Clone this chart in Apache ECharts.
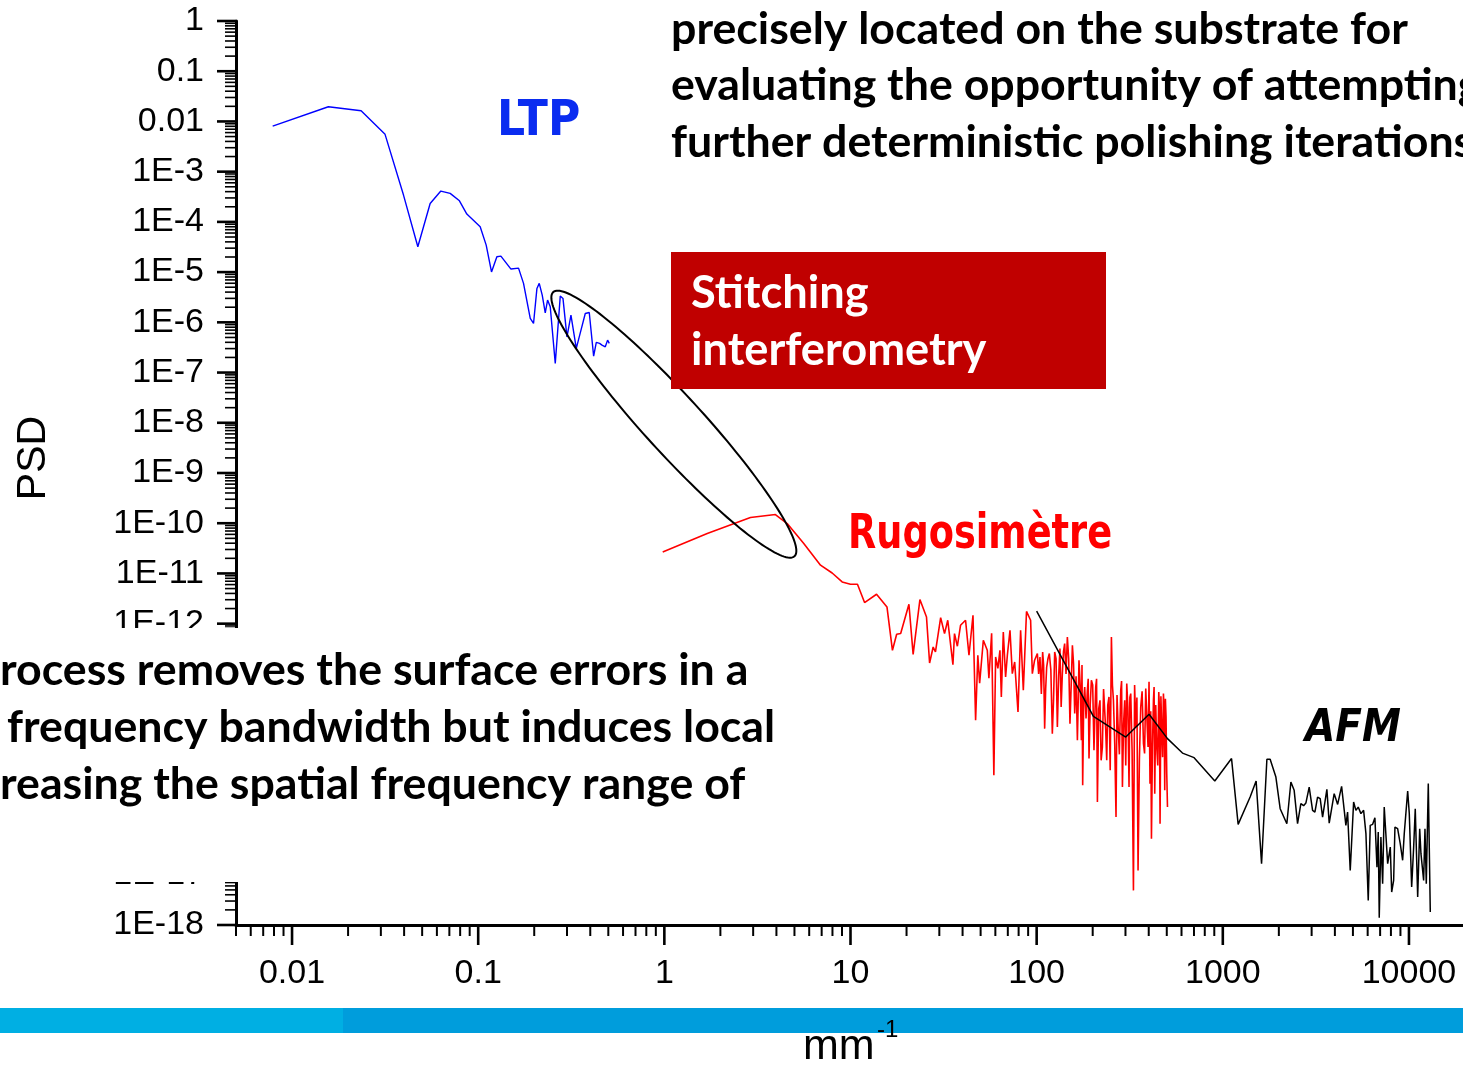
<!DOCTYPE html>
<html>
<head>
<meta charset="utf-8">
<script src="https://cdn.jsdelivr.net/npm/echarts@6/dist/echarts.min.js"></script>
<style>
  html, body { margin: 0; padding: 0; background: #fff; overflow: hidden; }
  #chart { width: 1463px; height: 1067px; }
</style>
</head>
<body>
<div id="chart"></div>
<script>
// ---- PSD measurements: spatial frequency (mm^-1) and PSD ----
// Long Trace Profiler
const ltpFreq = [0.00787, 0.01567, 0.0235, 0.0316, 0.0397, 0.0474, 0.0552, 0.063, 0.0707, 0.0793,
  0.0869, 0.1025, 0.1104, 0.1179, 0.126, 0.1324, 0.150, 0.1647, 0.1752, 0.1904,
  0.1983, 0.2068, 0.2128, 0.2208, 0.2292, 0.2359, 0.2438, 0.2594, 0.276, 0.2854,
  0.2998, 0.315, 0.3365, 0.3566, 0.376, 0.395, 0.417, 0.431, 0.449, 0.4624,
  0.4717, 0.4817, 0.4956, 0.5061];
const ltpPsd = [8.1e-3, 1.96e-2, 1.63e-2, 5.53e-3, 3.42e-4, 3.19e-5, 2.33e-4, 4.11e-4, 3.70e-4, 2.63e-4,
  1.43e-4, 7.98e-5, 3.45e-5, 1.01e-5, 2.02e-5, 2.08e-5, 1.15e-5, 1.20e-5, 5.96e-6, 1.20e-6,
  9.5e-7, 4.73e-6, 5.96e-6, 3.48e-6, 1.55e-6, 2.77e-6, 2.04e-6, 1.52e-7, 3.33e-6, 2.99e-6,
  5.14e-7, 1.39e-6, 3.02e-7, 7.0e-7, 1.50e-6, 1.57e-6, 2.12e-7, 3.98e-7, 3.80e-7, 3.52e-7,
  3.80e-7, 3.25e-7, 4.42e-7, 3.80e-7];

// Rugosimeter (stylus profiler)
const rugoFreq = [0.98, 1.70, 2.90, 3.95, 4.57, 5.61, 6.90, 7.97, 9.02, 10.0,
  10.9, 11.9, 13.8, 15.7, 16.8, 17.7, 18.6, 20.6, 21.7, 23.6,
  25.6, 26.6, 27.8, 28.6, 30.5, 32.0, 33.3, 35.5, 36.2, 37.5,
  39.0, 41.5, 43.3, 45.5, 47.0, 48.3, 49.4, 51.7, 54.3, 55.4,
  57.3, 58.9, 60.2, 61.9, 63.5, 64.6, 66.2, 68.1, 69.6, 71.9,
  74.0, 76.2, 79.4, 82.0, 84.8, 88.2, 92.8, 94.8, 97.5, 100.9,
  104.2, 107.7, 110.4, 113.2, 117.0, 121.4, 125.0, 129.2, 133.4, 137.4,
  141.4, 146.2, 151.0, 155.6, 160.1, 165.5, 168.8, 173.8, 176.7, 181.2,
  187.3, 191.1, 196.8, 203.2, 207.6, 212.0, 218.9, 225.5, 232.1, 237.9,
  244.7, 252.1, 258.5, 266.9, 273.5, 282.9, 288.9, 297.2, 304.8, 313.5,
  320.2, 331.1, 340.7, 350.5, 362.3, 374.8, 385.5, 396.7, 406.4, 413.7,
  424.0, 430.9, 441.6, 452.9, 460.2, 469.9, 479.8, 487.6, 495.5, 504.4];
const rugoPsd = [2.68e-11, 6.24e-11, 1.30e-10, 1.49e-10, 9.86e-11, 3.94e-11, 1.46e-11, 1.02e-11, 6.78e-12, 6.10e-12,
  6.10e-12, 2.63e-12, 3.85e-12, 2.15e-12, 2.95e-13, 6.15e-13, 6.35e-13, 2.43e-12, 2.45e-13, 3.02e-12,
  1.36e-12, 1.65e-13, 3.43e-13, 2.73e-13, 1.32e-12, 6.35e-13, 1.17e-12, 1.53e-13, 6.35e-13, 3.55e-13,
  9.29e-13, 1.17e-12, 2.35e-13, 1.47e-12, 1.19e-14, 2.35e-13, 6.50e-14, 4.67e-13, 2.95e-13, 8.17e-14,
  6.44e-13, 9.55e-16, 2.17e-13, 1.29e-13, 2.95e-13, 3.47e-14, 6.84e-13, 8.67e-14, 2.35e-13, 7.39e-13,
  1.01e-13, 1.73e-13, 1.74e-14, 7.39e-13, 4.71e-14, 1.75e-12, 1.17e-12, 1.01e-13, 1.87e-13, 2.54e-13,
  2.17e-13, 2.73e-13, 8.13e-15, 1.37e-13, 2.54e-13, 6.47e-15, 2.73e-13, 8.75e-15, 3.19e-13, 1.01e-13,
  4.02e-13, 5.43e-13, 1.02e-14, 3.72e-13, 1.62e-14, 4.75e-15, 1.87e-13, 4.75e-15, 6.04e-16, 5.48e-14,
  4.71e-14, 2.06e-15, 7.46e-14, 3.01e-15, 5.48e-14, 2.81e-16, 2.98e-14, 3.50e-15, 4.71e-14, 1.90e-15,
  3.47e-14, 5.43e-13, 2.98e-14, 1.41e-16, 1.02e-14, 4.71e-14, 5.58e-16, 2.98e-14, 6.41e-14, 5.58e-16,
  4.05e-14, 4.89e-18, 8.75e-15, 1.22e-17, 2.19e-14, 4.09e-15, 5.09e-14, 3.50e-15, 6.53e-16, 5.24e-17,
  2.98e-14, 4.13e-16, 3.50e-15, 4.36e-14, 1.04e-16, 7.52e-15, 4.05e-14, 4.80e-16, 1.38e-14, 2.23e-16];
// Rugosimeter, densely sampled tail (100-500 mm^-1), interleaved with the points above
const rugoTailFreq = [102.5, 106, 109, 111.8, 115, 119.2, 123.2, 127.1, 131.3, 135.4,
  139.4, 143.8, 148.6, 153.3, 157.8, 162.8, 167.1, 171.3, 175.2, 179,
  184.2, 189.2, 194, 200, 205.4, 209.8, 215.4, 222, 228.8, 235,
  241, 248.4, 255.3, 262.7, 270.2, 278.2, 285.9, 293, 301, 309,
  316.8, 325.6, 335.9, 345.6, 356.4, 368.5, 380, 391, 401.5, 410,
  418.8, 427.4, 436.2, 447.2, 456.5, 465, 474.8, 483.7, 491.5, 500];
const rugoTailPsd = [1.0e-13, 4.0e-14, 1.5e-13, 5.0e-14, 2.0e-13, 1.2e-13, 3.0e-14, 2.0e-13, 9.0e-14, 2.2e-14,
  2.8e-13, 1.0e-13, 2.0e-13, 6.0e-14, 1.6e-13, 9.0e-14, 2.5e-14, 6.0e-14, 1.5e-13, 3.0e-14,
  1.3e-14, 8.0e-14, 2.5e-14, 6.0e-14, 1.4e-14, 8.0e-14, 2.0e-14, 1.9e-15, 5.0e-14, 7.5e-15,
  2.4e-14, 1.2e-15, 6.0e-14, 4.0e-15, 3.8e-14, 2.5e-15, 7.2e-14, 1.0e-14, 1.5e-15, 2.2e-14,
  3.4e-14, 3.0e-15, 6.0e-14, 3.4e-14, 2.0e-15, 4.5e-14, 2.6e-15, 1.3e-14, 7.0e-14, 1.8e-14,
  3.5e-15, 5.5e-14, 2.4e-14, 1.5e-15, 2.1e-14, 3.6e-14, 2.2e-15, 1.9e-14, 3.2e-14, 1.0e-15];

// Atomic Force Microscope
const afmFreq = [100, 201.8, 301, 401.7, 504.4, 607.3, 701.1, 905.7, 1114, 1209,
  1402, 1510, 1615, 1725, 1796, 1928, 2033, 2208, 2321, 2417,
  2521, 2626, 2717, 2794, 2911, 3036, 3124, 3229, 3335, 3436,
  3623, 3729, 3965, 4139, 4347, 4583, 4680, 4836, 5043, 5188,
  5338, 5520, 5707, 5873, 6043, 6194, 6382, 6563, 6730, 6839,
  6924, 7068, 7221, 7364, 7685, 7937, 8075, 8274, 8408, 8692,
  8977, 9248, 9434, 9842, 10040, 10340, 10600, 10810, 11140, 11420,
  11600, 11990, 12190, 12390, 12700, 13020];
const afmPsd = [1.77e-12, 1.43e-14, 5.53e-15, 1.57e-14, 5.14e-15, 2.65e-15, 2.15e-15, 7.35e-16, 2.06e-15, 1.01e-16,
  3.53e-16, 7.35e-16, 1.66e-17, 1.99e-15, 1.99e-15, 8.83e-16, 2.07e-16, 1.04e-16, 7.03e-16, 4.80e-16,
  1.04e-16, 2.61e-16, 2.38e-16, 2.68e-16, 5.58e-16, 1.92e-16, 1.77e-16, 3.53e-16, 3.28e-16, 1.41e-16,
  5.02e-16, 1.07e-16, 4.13e-16, 2.52e-16, 5.77e-16, 9.64e-17, 1.77e-16, 1.22e-17, 2.81e-16, 1.92e-16,
  2.23e-16, 1.65e-16, 1.92e-16, 6.59e-17, 3.09e-18, 9.64e-17, 1.01e-16, 1.37e-16, 1.42e-17, 7.10e-17,
  1.40e-18, 5.64e-17, 6.65e-18, 2.23e-16, 1.66e-17, 3.56e-17, 4.52e-18, 7.73e-18, 8.91e-17, 8.28e-17,
  4.16e-17, 1.94e-17, 6.59e-17, 4.65e-16, 1.65e-16, 5.69e-18, 3.56e-17, 2.07e-16, 3.60e-18, 8.28e-17,
  2.63e-17, 7.73e-18, 8.28e-17, 6.65e-18, 6.53e-16, 1.81e-18];

// Axis ranges and tick labels (one label per decade)
const X_MIN = 0.005, X_MAX = 20000;
const Y_MIN = 1e-18, Y_MAX = 1;
const xTickLabels = ['0.01', '0.1', '1', '10', '100', '1000', '10000'];   // 1e-2 .. 1e4
const yTickLabels = ['1', '0.1', '0.01', '1E-3', '1E-4', '1E-5', '1E-6', '1E-7', '1E-8', '1E-9',
  '1E-10', '1E-11', '1E-12', '1E-13', '1E-14', '1E-15', '1E-16', '1E-17', '1E-18'];  // 1e0 .. 1e-18

// Region where stitching interferometry bridges LTP and the rugosimeter (end points of the ellipse)
const stitchingBandEnds = [[0.253, 4.0e-6], [5.0, 2.2e-11]];
const STITCH_HALF_WIDTH = 29;

const toPairs = (xs, ys) => xs.map((x, i) => [x, ys[i]]);
const rugoPairs = toPairs(rugoFreq, rugoPsd).concat(toPairs(rugoTailFreq, rugoTailPsd))
  .sort((p, q) => p[0] - q[0]);

function decade(v) {
  const l = Math.log10(v);
  const e = Math.round(l);
  return Math.abs(l - e) < 1e-6 ? e : null;
}

// Log-axis tick positions: majors on each decade, minors at 2..9
const xTicks = [];
for (let d = -3; d <= 4; d++) {
  for (let k = 1; k <= 9; k++) {
    const v = k * Math.pow(10, d);
    if (v >= X_MIN * 0.999 && v <= X_MAX * 1.001) xTicks.push([v, Y_MIN, k === 1 ? 1 : 0]);
  }
}
const yTicks = [];
for (let d = -18; d <= 0; d++) {
  for (let k = 1; k <= 9; k++) {
    const v = k * Math.pow(10, d);
    if (v <= Y_MAX * 1.001) yTicks.push([X_MIN, v, k === 1 ? 1 : 0]);
  }
}

const AXIS_FONT = 'Liberation Sans';

const chart = echarts.init(document.getElementById('chart'), null, { renderer: 'canvas', devicePixelRatio: 1 });

const option = {
  animation: false,
  backgroundColor: '#ffffff',
  grid: { left: 236, top: 21, width: 1229, height: 904, containLabel: false, outerBoundsMode: 'none' },
  xAxis: {
    type: 'log', logBase: 10, min: X_MIN, max: X_MAX,
    axisLine: { show: true, lineStyle: { color: '#000', width: 3 } },
    axisTick: { show: false },
    minorTick: { show: false },
    splitLine: { show: false },
    axisLabel: {
      show: true, color: '#000', fontFamily: AXIS_FONT, fontSize: 34, margin: 32,
      hideOverlap: false, showMinLabel: true, showMaxLabel: true,
      formatter: v => { const e = decade(v); return e === null ? '' : (xTickLabels[e + 2] || ''); }
    }
  },
  yAxis: {
    type: 'log', logBase: 10, min: Y_MIN, max: Y_MAX, interval: 1,
    axisLine: { show: true, lineStyle: { color: '#000', width: 3 } },
    axisTick: { show: false },
    minorTick: { show: false },
    splitLine: { show: false },
    axisLabel: {
      show: true, color: '#000', fontFamily: AXIS_FONT, fontSize: 34, margin: 32,
      hideOverlap: false, showMinLabel: true, showMaxLabel: true,
      formatter: v => { const e = decade(v); return e === null ? '' : (yTickLabels[-e] || ''); }
    }
  },
  series: [
    {
      name: 'x ticks', type: 'custom', silent: true, clip: false, z: 3,
      data: xTicks,
      renderItem: (params, api) => {
        const p = api.coord([api.value(0), api.value(1)]);
        const major = api.value(2) === 1;
        return { type: 'line', shape: { x1: p[0], y1: p[1], x2: p[0], y2: p[1] + (major ? 20 : 11) },
                 style: { stroke: '#000', lineWidth: major ? 2.6 : 2 } };
      }
    },
    {
      name: 'y ticks', type: 'custom', silent: true, clip: false, z: 3,
      data: yTicks,
      renderItem: (params, api) => {
        const p = api.coord([api.value(0), api.value(1)]);
        const major = api.value(2) === 1;
        return { type: 'line', shape: { x1: p[0] - (major ? 19 : 11), y1: p[1], x2: p[0], y2: p[1] },
                 style: { stroke: '#000', lineWidth: major ? 2.6 : 1.6 } };
      }
    },
    {
      name: 'LTP', type: 'line', data: toPairs(ltpFreq, ltpPsd), showSymbol: false, symbol: 'none',
      lineStyle: { color: '#0000ff', width: 1.4 }, z: 4, silent: true
    },
    {
      name: 'Rugosimètre', type: 'line', data: rugoPairs, showSymbol: false, symbol: 'none',
      lineStyle: { color: '#ff0000', width: 1.6 }, z: 4, silent: true
    },
    {
      name: 'AFM', type: 'line', data: toPairs(afmFreq, afmPsd), showSymbol: false, symbol: 'none',
      lineStyle: { color: '#000000', width: 1.5 }, z: 5, silent: true
    }
  ]
};

chart.setOption(option);

// ---- annotations ----
const a = chart.convertToPixel({ xAxisIndex: 0, yAxisIndex: 0 }, stitchingBandEnds[0]);
const b = chart.convertToPixel({ xAxisIndex: 0, yAxisIndex: 0 }, stitchingBandEnds[1]);
const cx = (a[0] + b[0]) / 2, cy = (a[1] + b[1]) / 2;
const semiMajor = Math.hypot(b[0] - a[0], b[1] - a[1]) / 2;
const phi = Math.atan2(b[1] - a[1], b[0] - a[0]);
const ellipsePts = [];
for (let i = 0; i < 160; i++) {
  const t = (i / 160) * Math.PI * 2;
  const u = semiMajor * Math.cos(t), w = STITCH_HALF_WIDTH * Math.sin(t);
  ellipsePts.push([cx + u * Math.cos(phi) - w * Math.sin(phi), cy + u * Math.sin(phi) + w * Math.cos(phi)]);
}

const BODY_FONT = 'bold 44.7px Lato';
const BOX_FONT = 'bold 45.2px Lato';
const textEl = (txt, x, y, font, fill, extra) => Object.assign({
  type: 'text', x: x, y: y, z: 101, silent: true,
  style: { text: txt, font: font, fill: fill, textAlign: 'left', align: 'left',
           textVerticalAlign: 'middle', verticalAlign: 'middle' }
}, extra || {});

chart.setOption({
  graphic: {
    elements: [
      { type: 'polygon', z: 6, silent: true, shape: { points: ellipsePts },
        style: { fill: 'none', stroke: '#000', lineWidth: 2 } },

      // bullet text block over the lower part of the plot
      { type: 'rect', z: 100, silent: true, shape: { x: 0, y: 628, width: 800, height: 254 }, style: { fill: '#fff' } },
      textEl('rocess removes the surface errors in a', 0, 671, BODY_FONT, '#000'),
      textEl('frequency bandwidth but induces local', 7, 728, BODY_FONT, '#000'),
      textEl('reasing the spatial frequency range of', 0, 785, BODY_FONT, '#000'),

      // bullet text at the top right
      textEl('precisely located on the substrate for', 671, 30, BODY_FONT, '#000'),
      textEl('evaluating the opportunity of attempting', 671, 86, BODY_FONT, '#000'),
      textEl('further deterministic polishing iterations', 671, 143, BODY_FONT, '#000'),

      // instrument box
      { type: 'rect', z: 100, silent: true, shape: { x: 671, y: 252, width: 435, height: 137 }, style: { fill: '#c00000' } },
      textEl('Stitching', 691, 293, BOX_FONT, '#fff'),
      textEl('interferometry', 691, 350, BOX_FONT, '#fff'),

      // curve names
      textEl('LTP', 497, 122, 'bold 49px "DejaVu Sans"', '#0a2cf0', { scaleX: 0.9 }),
      textEl('Rugosimètre', 848, 536, 'bold 48px "DejaVu Sans"', '#ff0000', { scaleX: 0.765 }),
      textEl('AFM', 1305, 729, 'italic bold 45px "DejaVu Sans"', '#000', { scaleX: 0.87 }),

      // axis titles
      textEl('PSD', 34, 458, '41px "Liberation Sans"', '#000',
        { rotation: Math.PI / 2, style: { text: 'PSD', font: '41px "Liberation Sans"', fill: '#000',
          textAlign: 'center', align: 'center', textVerticalAlign: 'middle', verticalAlign: 'middle' } }),

      // footer band
      { type: 'rect', z: 100, silent: true, shape: { x: 0, y: 1008, width: 343, height: 25 }, style: { fill: '#00afe3' } },
      { type: 'rect', z: 100, silent: true, shape: { x: 343, y: 1008, width: 1120, height: 25 }, style: { fill: '#009ddc' } },
      textEl('mm', 803, 1047, '43px "Liberation Sans"', '#000'),
      textEl('-1', 877, 1030, '24px "Liberation Sans"', '#000')
    ]
  }
});
</script>
</body>
</html>
